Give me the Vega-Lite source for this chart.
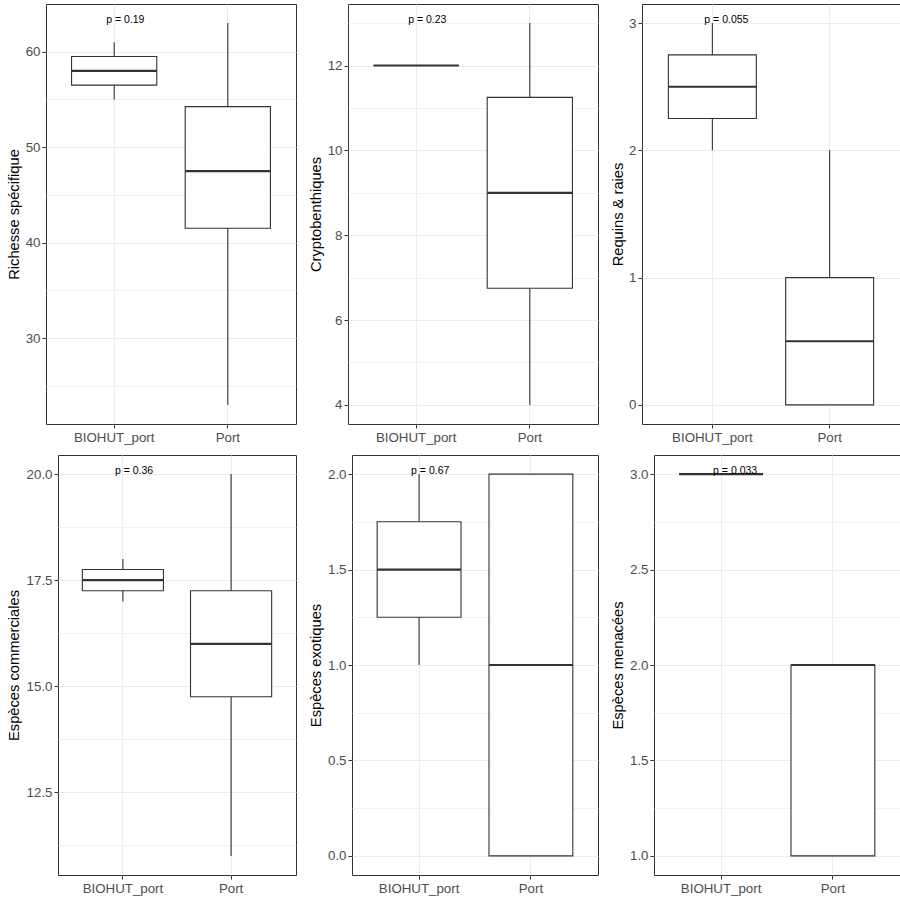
{
  "$schema": "https://vega.github.io/schema/vega-lite/v6.json",
  "background": "white",
  "padding": {"left": 4, "top": 3, "right": 0, "bottom": 0},
  "data": {"values": [
    {"panel": "P1", "group": "BIOHUT_port", "min": 55, "q1": 56.5, "median": 58, "q3": 59.5, "max": 61, "plabel": "p = 0.19", "ptop": 63},
    {"panel": "P1", "group": "Port", "min": 23, "q1": 41.5, "median": 47.5, "q3": 54.25, "max": 63},
    {"panel": "P2", "group": "BIOHUT_port", "min": 12, "q1": 12, "median": 12, "q3": 12, "max": 12, "plabel": "p = 0.23", "ptop": 13},
    {"panel": "P2", "group": "Port", "min": 4, "q1": 6.75, "median": 9, "q3": 11.25, "max": 13},
    {"panel": "P3", "group": "BIOHUT_port", "min": 2, "q1": 2.25, "median": 2.5, "q3": 2.75, "max": 3, "plabel": "p = 0.055", "ptop": 3},
    {"panel": "P3", "group": "Port", "min": 0, "q1": 0, "median": 0.5, "q3": 1, "max": 2},
    {"panel": "P4", "group": "BIOHUT_port", "min": 17, "q1": 17.25, "median": 17.5, "q3": 17.75, "max": 18, "plabel": "p = 0.36", "ptop": 20},
    {"panel": "P4", "group": "Port", "min": 11, "q1": 14.75, "median": 16, "q3": 17.25, "max": 20},
    {"panel": "P5", "group": "BIOHUT_port", "min": 1, "q1": 1.25, "median": 1.5, "q3": 1.75, "max": 2, "plabel": "p = 0.67", "ptop": 2},
    {"panel": "P5", "group": "Port", "min": 0, "q1": 0, "median": 1, "q3": 2, "max": 2},
    {"panel": "P6", "group": "BIOHUT_port", "min": 3, "q1": 3, "median": 3, "q3": 3, "max": 3, "plabel": "p = 0.033", "ptop": 3},
    {"panel": "P6", "group": "Port", "min": 1, "q1": 1, "median": 2, "q3": 2, "max": 2}
  ]},
  "spacing": 9,
  "vconcat": [
    {
      "spacing": 0,
      "hconcat": [
        {"width": 1, "height": 1, "view": {"stroke": null}, "data": {"values": [{"a": 1}]}, "mark": {"type": "text", "text": "", "fontSize": 0}, "encoding": {}},
        {
          "spacing": 10,
          "hconcat": [
            {
              "width": 250, "height": 420,
              "transform": [{"filter": "datum.panel === 'P1'"}],
              "encoding": {"x": {"field": "group", "type": "nominal", "scale": {"type": "band", "domain": ["BIOHUT_port", "Port"], "paddingInner": 0.25, "paddingOuter": 0.225}, "axis": {"title": null, "labelAngle": 0, "bandPosition": 0.5, "grid": true, "minExtent": 20, "maxExtent": 20}}},
              "layer": [
                {"mark": {"type": "rule", "color": "#333333", "strokeWidth": 1.1},
                 "encoding": {"y": {"field": "min", "type": "quantitative", "title": "Richesse spécifique", "scale": {"domain": [21, 65], "nice": false, "zero": false},
                   "axis": {"values": [25, 30, 35, 40, 45, 50, 55, 60], "format": "d", "labelExpr": "datum.value % 10 === 0 ? datum.label : ''", "tickOpacity": {"condition": {"test": "datum.value % 10 === 0", "value": 1}, "value": 0}, "gridWidth": {"condition": {"test": "datum.value % 10 === 0", "value": 1}, "value": 0.7}, "minExtent": 21, "maxExtent": 21}},
                   "y2": {"field": "max"}}},
                {"mark": {"type": "bar", "fill": "white", "stroke": "#333333", "strokeWidth": 1.1},
                 "encoding": {"y": {"field": "q1", "type": "quantitative", "title": "Richesse spécifique"}, "y2": {"field": "q3"}}},
                {"mark": {"type": "bar", "fill": "white", "stroke": "#333333", "strokeWidth": 2.2},
                 "encoding": {"y": {"field": "median", "type": "quantitative", "title": "Richesse spécifique"}, "y2": {"field": "median"}}},
                {"transform": [{"filter": "datum.plabel != null"}],
                 "mark": {"type": "text", "align": "left", "dx": -8, "baseline": "alphabetic", "fontSize": 10.5, "color": "#000000"},
                 "encoding": {"y": {"field": "ptop", "type": "quantitative", "title": "Richesse spécifique"}, "text": {"field": "plabel"}}}
              ]
            },
            {
              "width": 250, "height": 420,
              "transform": [{"filter": "datum.panel === 'P2'"}],
              "encoding": {"x": {"field": "group", "type": "nominal", "scale": {"type": "band", "domain": ["BIOHUT_port", "Port"], "paddingInner": 0.25, "paddingOuter": 0.225}, "axis": {"title": null, "labelAngle": 0, "bandPosition": 0.5, "grid": true, "minExtent": 20, "maxExtent": 20}}},
              "layer": [
                {"mark": {"type": "rule", "color": "#333333", "strokeWidth": 1.1},
                 "encoding": {"y": {"field": "min", "type": "quantitative", "title": "Cryptobenthiques", "scale": {"domain": [3.55, 13.45], "nice": false, "zero": false},
                   "axis": {"values": [4, 5, 6, 7, 8, 9, 10, 11, 12, 13], "format": "d", "labelExpr": "datum.value % 2 === 0 ? datum.label : ''", "tickOpacity": {"condition": {"test": "datum.value % 2 === 0", "value": 1}, "value": 0}, "gridWidth": {"condition": {"test": "datum.value % 2 === 0", "value": 1}, "value": 0.7}, "minExtent": 21, "maxExtent": 21}},
                   "y2": {"field": "max"}}},
                {"mark": {"type": "bar", "fill": "white", "stroke": "#333333", "strokeWidth": 1.1},
                 "encoding": {"y": {"field": "q1", "type": "quantitative", "title": "Cryptobenthiques"}, "y2": {"field": "q3"}}},
                {"mark": {"type": "bar", "fill": "white", "stroke": "#333333", "strokeWidth": 2.2},
                 "encoding": {"y": {"field": "median", "type": "quantitative", "title": "Cryptobenthiques"}, "y2": {"field": "median"}}},
                {"transform": [{"filter": "datum.plabel != null"}],
                 "mark": {"type": "text", "align": "left", "dx": -8, "baseline": "alphabetic", "fontSize": 10.5, "color": "#000000"},
                 "encoding": {"y": {"field": "ptop", "type": "quantitative", "title": "Cryptobenthiques"}, "text": {"field": "plabel"}}}
              ]
            },
            {
              "width": 258, "height": 420,
              "transform": [{"filter": "datum.panel === 'P3'"}],
              "encoding": {"x": {"field": "group", "type": "nominal", "scale": {"type": "band", "domain": ["BIOHUT_port", "Port"], "paddingInner": 0.25, "paddingOuter": 0.225}, "axis": {"title": null, "labelAngle": 0, "bandPosition": 0.5, "grid": true, "minExtent": 20, "maxExtent": 20}}},
              "layer": [
                {"mark": {"type": "rule", "color": "#333333", "strokeWidth": 1.1},
                 "encoding": {"y": {"field": "min", "type": "quantitative", "title": "Requins & raies", "scale": {"domain": [-0.15, 3.15], "nice": false, "zero": false},
                   "axis": {"values": [0, 0.5, 1, 1.5, 2, 2.5, 3], "format": "d", "labelExpr": "datum.value % 1 === 0 ? datum.label : ''", "tickOpacity": {"condition": {"test": "datum.value % 1 === 0", "value": 1}, "value": 0}, "gridWidth": {"condition": {"test": "datum.value % 1 === 0", "value": 1}, "value": 0.7}, "minExtent": 12.7, "maxExtent": 12.7}},
                   "y2": {"field": "max"}}},
                {"mark": {"type": "bar", "fill": "white", "stroke": "#333333", "strokeWidth": 1.1},
                 "encoding": {"y": {"field": "q1", "type": "quantitative", "title": "Requins & raies"}, "y2": {"field": "q3"}}},
                {"mark": {"type": "bar", "fill": "white", "stroke": "#333333", "strokeWidth": 2.2},
                 "encoding": {"y": {"field": "median", "type": "quantitative", "title": "Requins & raies"}, "y2": {"field": "median"}}},
                {"transform": [{"filter": "datum.plabel != null"}],
                 "mark": {"type": "text", "align": "left", "dx": -8, "baseline": "alphabetic", "fontSize": 10.5, "color": "#000000"},
                 "encoding": {"y": {"field": "ptop", "type": "quantitative", "title": "Requins & raies"}, "text": {"field": "plabel"}}}
              ]
            }
          ]
        }
      ]
    },
    {
      "spacing": 0,
      "hconcat": [
        {"width": 1, "height": 1, "view": {"stroke": null}, "data": {"values": [{"a": 1}]}, "mark": {"type": "text", "text": "", "fontSize": 0}, "encoding": {}},
        {
          "spacing": 10,
          "hconcat": [
            {
              "width": 238, "height": 420,
              "transform": [{"filter": "datum.panel === 'P4'"}],
              "encoding": {"x": {"field": "group", "type": "nominal", "scale": {"type": "band", "domain": ["BIOHUT_port", "Port"], "paddingInner": 0.25, "paddingOuter": 0.225}, "axis": {"title": null, "labelAngle": 0, "bandPosition": 0.5, "grid": true, "minExtent": 20, "maxExtent": 20}}},
              "layer": [
                {"mark": {"type": "rule", "color": "#333333", "strokeWidth": 1.1},
                 "encoding": {"y": {"field": "min", "type": "quantitative", "title": "Espèces commerciales", "scale": {"domain": [10.55, 20.45], "nice": false, "zero": false},
                   "axis": {"values": [11.25, 12.5, 13.75, 15, 16.25, 17.5, 18.75, 20], "format": ".1f", "labelExpr": "datum.value % 2.5 === 0 ? datum.label : ''", "tickOpacity": {"condition": {"test": "datum.value % 2.5 === 0", "value": 1}, "value": 0}, "gridWidth": {"condition": {"test": "datum.value % 2.5 === 0", "value": 1}, "value": 0.7}, "minExtent": 33, "maxExtent": 33}},
                   "y2": {"field": "max"}}},
                {"mark": {"type": "bar", "fill": "white", "stroke": "#333333", "strokeWidth": 1.1},
                 "encoding": {"y": {"field": "q1", "type": "quantitative", "title": "Espèces commerciales"}, "y2": {"field": "q3"}}},
                {"mark": {"type": "bar", "fill": "white", "stroke": "#333333", "strokeWidth": 2.2},
                 "encoding": {"y": {"field": "median", "type": "quantitative", "title": "Espèces commerciales"}, "y2": {"field": "median"}}},
                {"transform": [{"filter": "datum.plabel != null"}],
                 "mark": {"type": "text", "align": "left", "dx": -8, "baseline": "alphabetic", "fontSize": 10.5, "color": "#000000"},
                 "encoding": {"y": {"field": "ptop", "type": "quantitative", "title": "Espèces commerciales"}, "text": {"field": "plabel"}}}
              ]
            },
            {
              "width": 246, "height": 420,
              "transform": [{"filter": "datum.panel === 'P5'"}],
              "encoding": {"x": {"field": "group", "type": "nominal", "scale": {"type": "band", "domain": ["BIOHUT_port", "Port"], "paddingInner": 0.25, "paddingOuter": 0.225}, "axis": {"title": null, "labelAngle": 0, "bandPosition": 0.5, "grid": true, "minExtent": 20, "maxExtent": 20}}},
              "layer": [
                {"mark": {"type": "rule", "color": "#333333", "strokeWidth": 1.1},
                 "encoding": {"y": {"field": "min", "type": "quantitative", "title": "Espèces exotiques", "scale": {"domain": [-0.1, 2.1], "nice": false, "zero": false},
                   "axis": {"values": [0, 0.25, 0.5, 0.75, 1, 1.25, 1.5, 1.75, 2], "format": ".1f", "labelExpr": "datum.value % 0.5 === 0 ? datum.label : ''", "tickOpacity": {"condition": {"test": "datum.value % 0.5 === 0", "value": 1}, "value": 0}, "gridWidth": {"condition": {"test": "datum.value % 0.5 === 0", "value": 1}, "value": 0.7}, "minExtent": 25, "maxExtent": 25}},
                   "y2": {"field": "max"}}},
                {"mark": {"type": "bar", "fill": "white", "stroke": "#333333", "strokeWidth": 1.1},
                 "encoding": {"y": {"field": "q1", "type": "quantitative", "title": "Espèces exotiques"}, "y2": {"field": "q3"}}},
                {"mark": {"type": "bar", "fill": "white", "stroke": "#333333", "strokeWidth": 2.2},
                 "encoding": {"y": {"field": "median", "type": "quantitative", "title": "Espèces exotiques"}, "y2": {"field": "median"}}},
                {"transform": [{"filter": "datum.plabel != null"}],
                 "mark": {"type": "text", "align": "left", "dx": -8, "baseline": "alphabetic", "fontSize": 10.5, "color": "#000000"},
                 "encoding": {"y": {"field": "ptop", "type": "quantitative", "title": "Espèces exotiques"}, "text": {"field": "plabel"}}}
              ]
            },
            {
              "width": 246, "height": 420,
              "transform": [{"filter": "datum.panel === 'P6'"}],
              "encoding": {"x": {"field": "group", "type": "nominal", "scale": {"type": "band", "domain": ["BIOHUT_port", "Port"], "paddingInner": 0.25, "paddingOuter": 0.225}, "axis": {"title": null, "labelAngle": 0, "bandPosition": 0.5, "grid": true, "minExtent": 20, "maxExtent": 20}}},
              "layer": [
                {"mark": {"type": "rule", "color": "#333333", "strokeWidth": 1.1},
                 "encoding": {"y": {"field": "min", "type": "quantitative", "title": "Espèces menacées", "scale": {"domain": [0.9, 3.1], "nice": false, "zero": false},
                   "axis": {"values": [1, 1.25, 1.5, 1.75, 2, 2.25, 2.5, 2.75, 3], "format": ".1f", "labelExpr": "datum.value % 0.5 === 0 ? datum.label : ''", "tickOpacity": {"condition": {"test": "datum.value % 0.5 === 0", "value": 1}, "value": 0}, "gridWidth": {"condition": {"test": "datum.value % 0.5 === 0", "value": 1}, "value": 0.7}, "minExtent": 25, "maxExtent": 25}},
                   "y2": {"field": "max"}}},
                {"mark": {"type": "bar", "fill": "white", "stroke": "#333333", "strokeWidth": 1.1},
                 "encoding": {"y": {"field": "q1", "type": "quantitative", "title": "Espèces menacées"}, "y2": {"field": "q3"}}},
                {"mark": {"type": "bar", "fill": "white", "stroke": "#333333", "strokeWidth": 2.2},
                 "encoding": {"y": {"field": "median", "type": "quantitative", "title": "Espèces menacées"}, "y2": {"field": "median"}}},
                {"transform": [{"filter": "datum.plabel != null"}],
                 "mark": {"type": "text", "align": "left", "dx": -8, "baseline": "alphabetic", "fontSize": 10.5, "color": "#000000"},
                 "encoding": {"y": {"field": "ptop", "type": "quantitative", "title": "Espèces menacées"}, "text": {"field": "plabel"}}}
              ]
            }
          ]
        }
      ]
    }
  ],
  "config": {
    "font": "Liberation Sans",
    "view": {"stroke": "#333333", "strokeWidth": 1},
    "axis": {
      "labelFont": "Liberation Sans", "titleFont": "Liberation Sans",
      "labelColor": "#4D4D4D", "labelFontSize": 13.3,
      "titleFontSize": 14.7, "titleFontWeight": "normal", "titleColor": "#000000",
      "tickColor": "#333333", "tickSize": 4, "labelPadding": 2, "titlePadding": 4,
      "domain": false, "gridColor": "#EBEBEB", "labelOverlap": false
    }
  }
}
